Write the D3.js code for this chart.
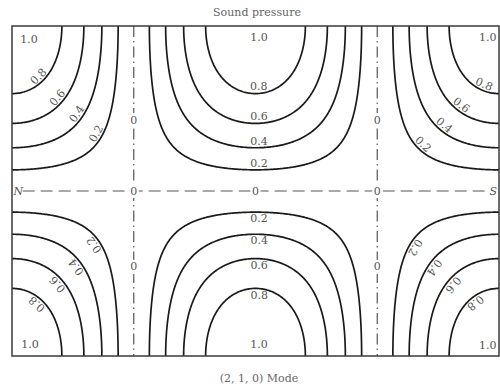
<!DOCTYPE html>
<html>
<head>
<meta charset="utf-8">
<script src="https://cdn.jsdelivr.net/npm/d3@7"></script>
<style>
  html, body { margin: 0; padding: 0; background: #fff; }
  text { font-family: "DejaVu Serif", "Liberation Serif", serif; }
</style>
</head>
<body>
<svg id="chart" width="500" height="388"></svg>
<script>
// Room mode (nx, ny, nz) and the pressure levels that get an isobar
const modeIndices = [2, 1, 0];
const contourLevels = [0.2, 0.4, 0.6, 0.8];
const peakValue = 1.0;
const nodeValue = 0;
const wallNames = ["N", "S"];
const chartTitle = "Sound pressure";
const levelOrder = [0.8, 0.6, 0.4, 0.2];

const svg = d3.select("#chart");
const frame = { left: 12, top: 26, right: 499, bottom: 356 };

// Room coordinates run 0..1 along length (x) and width (y)
const x = d3.scaleLinear().domain([0, 1]).range([frame.left, frame.right]);
const y = d3.scaleLinear().domain([0, 1]).range([frame.top, frame.bottom]);

const [nX, nY] = modeIndices;
const field = (u, v) => Math.cos(nX * Math.PI * u) * Math.cos(nY * Math.PI * v);

// Sample |p| on a grid that runs a little past the walls so isobars cross them
const pad = 0.04, N = 440;
const step = (1 + 2 * pad) / (N - 1);
const values = new Float64Array(N * N);
for (let j = 0; j < N; j++)
  for (let i = 0; i < N; i++)
    values[j * N + i] = Math.abs(field(-pad + i * step, -pad + j * step));

const contours = d3.contours().size([N, N]).thresholds(contourLevels)(values);
const gridToRoom = c => -pad + (c - 0.5) * step;
const path = d3.geoPath(d3.geoTransform({
  point(px, py) { this.stream.point(x(gridToRoom(px)), y(gridToRoom(py))); }
}));

svg.append("clipPath").attr("id", "room")
  .append("rect")
  .attr("x", frame.left).attr("y", frame.top)
  .attr("width", frame.right - frame.left).attr("height", frame.bottom - frame.top);

// Isobars
svg.append("g").attr("clip-path", "url(#room)")
  .selectAll("path").data(contours).join("path")
  .attr("d", path)
  .attr("fill", "none")
  .attr("stroke", "#1a1a1a")
  .attr("stroke-width", 1.7)
  .attr("stroke-linejoin", "round");

// Nodal planes: where the mode's cosine factors vanish
const nodesX = d3.range(nX).map(k => (k + 0.5) / nX);
const nodesY = d3.range(nY).map(k => (k + 0.5) / nY);

const nodeG = svg.append("g").attr("clip-path", "url(#room)");
nodeG.selectAll("line.vx").data(nodesX).join("line")
  .attr("class", "vx")
  .attr("x1", d => x(d)).attr("x2", d => x(d))
  .attr("y1", y(0)).attr("y2", y(1))
  .attr("stroke", "#555").attr("stroke-width", 1.2)
  .attr("stroke-dasharray", "11,4,1.5,4");
nodeG.selectAll("line.hy").data(nodesY).join("line")
  .attr("class", "hy")
  .attr("x1", x(0.022)).attr("x2", x(0.975))
  .attr("y1", d => y(d)).attr("y2", d => y(d))
  .attr("stroke", "#555").attr("stroke-width", 1.2)
  .attr("stroke-dasharray", "12,6");

// Room outline
svg.append("rect")
  .attr("x", frame.left).attr("y", frame.top)
  .attr("width", frame.right - frame.left).attr("height", frame.bottom - frame.top)
  .attr("fill", "none").attr("stroke", "#3a3a3a").attr("stroke-width", 1.5);

const fmt = d3.format(".1f");
const labelColor = "#555";

// Gradient of |p| in screen pixels at a screen point
function screenGrad(px, py) {
  const u = x.invert(px), v = y.invert(py);
  const s = Math.sign(field(u, v)) || 1;
  const du = -nX * Math.PI * Math.sin(nX * Math.PI * u) * Math.cos(nY * Math.PI * v);
  const dv = -nY * Math.PI * Math.cos(nX * Math.PI * u) * Math.sin(nY * Math.PI * v);
  return [s * du / (x(1) - x(0)), s * dv / (y(1) - y(0))];
}

// Slide a screen point onto the isobar of a level, then step off it
// by `gap` pixels toward higher pressure so the label sits in the band
function placeOnIsobar(u, v, level, gap) {
  let px = x(u), py = y(v);
  for (let i = 0; i < 20; i++) {
    const f = Math.abs(field(x.invert(px), y.invert(py)));
    const [gx, gy] = screenGrad(px, py);
    const g2 = gx * gx + gy * gy;
    px -= (f - level) * gx / g2;
    py -= (f - level) * gy / g2;
  }
  const [gx, gy] = screenGrad(px, py);
  const g = Math.hypot(gx, gy);
  let a = Math.atan2(-gx, gy) * 180 / Math.PI;
  if (a > 90) a -= 180;
  if (a < -90) a += 180;
  return { px: px + gap * gx / g, py: py + gap * gy / g, angle: a };
}

// Rough spots for each level label, grouped by the pressure maximum it rings
const labelSpots = [
  { peak: [0.035, 0.040], spots: [[0.047, 0.139], [0.088, 0.209], [0.129, 0.261], [0.158, 0.309]], turn: 0 },
  { peak: [0.507, 0.036], spots: [[0.507, 0.188], [0.507, 0.276], [0.507, 0.352], [0.507, 0.415]], flat: true },
  { peak: [0.977, 0.035], spots: [[0.971, 0.170], [0.926, 0.233], [0.893, 0.291], [0.858, 0.336]], turn: 0 },
  { peak: [0.037, 0.964], spots: [[0.047, 0.852], [0.088, 0.791], [0.125, 0.739], [0.156, 0.679]], turn: 180 },
  { peak: [0.507, 0.964], spots: [[0.507, 0.827], [0.507, 0.736], [0.507, 0.670], [0.507, 0.591]], flat: true },
  { peak: [0.977, 0.967], spots: [[0.961, 0.861], [0.920, 0.806], [0.885, 0.755], [0.854, 0.703]], turn: 180 }
];

const labelG = svg.append("g")
  .attr("fill", labelColor).attr("font-size", 11)
  .attr("text-anchor", "middle").attr("dominant-baseline", "central");

labelSpots.forEach(group => {
  labelG.append("text")
    .attr("x", x(group.peak[0])).attr("y", y(group.peak[1]))
    .text(fmt(peakValue));
  group.spots.forEach(([u, v], k) => {
    const level = levelOrder[k];
    const p = placeOnIsobar(u, v, level, group.flat ? 6.5 : 6);
    const t = labelG.append("text")
      .attr("x", p.px).attr("y", p.py)
      .text(fmt(level));
    if (!group.flat) {
      t.attr("transform", `rotate(${p.angle + group.turn},${p.px},${p.py})`);
    }
  });
});

// Zero labels on the nodal planes, each on a small white patch
const nodeSpots = [];
nodesX.forEach(u => {
  nodeSpots.push([u, 0.285], [u, 0.730]);
  nodesY.forEach(v => nodeSpots.push([u, v]));
});
nodesY.forEach(v => nodeSpots.push([0.5, v]));

const zeroG = svg.append("g");
nodeSpots.forEach(([u, v]) => {
  zeroG.append("rect")
    .attr("x", x(u) - 5).attr("y", y(v) - 7)
    .attr("width", 10).attr("height", 14).attr("fill", "#fff");
  zeroG.append("text")
    .attr("x", x(u)).attr("y", y(v))
    .attr("text-anchor", "middle").attr("dominant-baseline", "central")
    .attr("font-size", 11).attr("fill", labelColor)
    .text(nodeValue);
});

// Wall names at the ends of the nodal line
nodesY.forEach(v => {
  [[0.013, wallNames[0]], [0.988, wallNames[1]]].forEach(([u, name]) => {
    zeroG.append("text")
      .attr("x", x(u)).attr("y", y(v))
      .attr("text-anchor", "middle").attr("dominant-baseline", "central")
      .attr("font-size", 11).attr("font-style", "italic").attr("fill", labelColor)
      .text(name);
  });
});

// Title and caption
svg.append("text")
  .attr("x", 257).attr("y", 16)
  .attr("text-anchor", "middle").attr("font-size", 11).attr("fill", "#666")
  .text(chartTitle);
svg.append("text")
  .attr("x", 259).attr("y", 382)
  .attr("text-anchor", "middle").attr("font-size", 11).attr("fill", "#666")
  .text(`(${modeIndices.join(", ")}) Mode`);
</script>
</body>
</html>
